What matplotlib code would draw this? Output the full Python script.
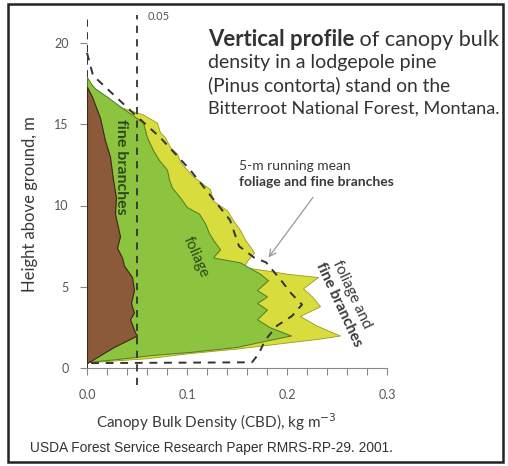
import matplotlib
matplotlib.use("Agg")
import matplotlib.pyplot as plt
from matplotlib.patches import Rectangle

# ---------------- data (height m, CBD kg m-3) ----------------
fb_h = [17.3, 16.7, 15.4, 14.0, 13.0, 11.6, 10.5, 9.5, 8.1, 7.4, 6.8, 6.3, 5.6, 4.8,
        4.0, 3.4, 3.0, 2.2, 2.0, 1.3, 0.3]
fb_x = [0.0, 0.005, 0.013, 0.018, 0.023, 0.026, 0.029, 0.028, 0.033, 0.030, 0.035,
        0.037, 0.045, 0.047, 0.044, 0.047, 0.043, 0.048, 0.050, 0.027, 0.0]

fol_h = [17.9, 17.5, 17.2, 16.7, 16.1, 15.5, 15.1, 14.2, 13.4, 12.8, 12.2, 11.6, 11.1,
         10.5, 9.9, 9.5, 8.9, 8.3, 7.9, 7.3, 6.8, 6.5, 5.8, 5.4, 4.8, 4.4, 4.0, 3.6,
         3.0, 2.5, 2.0, 1.7, 1.3, 1.0, 0.8, 0.55, 0.37]
fol_x = [0.0, 0.004, 0.008, 0.020, 0.033, 0.047, 0.056, 0.060, 0.066, 0.072, 0.080,
         0.082, 0.085, 0.093, 0.100, 0.112, 0.118, 0.122, 0.126, 0.133, 0.126, 0.153,
         0.173, 0.181, 0.170, 0.180, 0.170, 0.180, 0.170, 0.183, 0.204, 0.180, 0.150,
         0.105, 0.065, 0.030, 0.0]

tot_h = [17.2, 16.7, 16.3, 16.0, 15.8, 15.6, 15.1, 14.5, 14.2, 13.6, 13.2, 12.7, 12.2,
         11.8, 11.0, 10.3, 9.7, 9.1, 8.5, 7.9, 7.4, 7.1, 6.6, 6.2, 6.0, 5.8, 5.6, 4.9,
         4.4, 3.8, 3.2, 2.6, 2.0, 1.8, 1.6, 1.2, 0.9, 0.6, 0.35]
tot_x = [0.008, 0.018, 0.026, 0.036, 0.046, 0.056, 0.070, 0.073, 0.078, 0.083, 0.090,
         0.093, 0.100, 0.106, 0.123, 0.126, 0.140, 0.146, 0.153, 0.158, 0.164, 0.167,
         0.160, 0.157, 0.180, 0.200, 0.231, 0.216, 0.225, 0.233, 0.213, 0.230, 0.253,
         0.232, 0.204, 0.150, 0.100, 0.060, 0.0]

rm_h = [19.4, 18.0, 15.7, 14.2, 12.2, 9.1, 7.5, 6.8, 6.5, 5.4, 4.6, 3.9, 3.2, 2.6,
        1.7, 0.9, 0.35, 0.3]
rm_x = [0.0, 0.006, 0.046, 0.073, 0.103, 0.143, 0.152, 0.167, 0.179, 0.194, 0.204,
        0.215, 0.205, 0.190, 0.178, 0.172, 0.165, 0.0]

x_ticks = [0.0, 0.1, 0.2, 0.3]
x_tick_labels = ["0.0", "0.1", "0.2", "0.3"]
x_minor = [0.02, 0.04, 0.06, 0.08, 0.12, 0.14, 0.16, 0.18, 0.22, 0.24, 0.26, 0.28]
y_ticks = [0, 5, 10, 15, 20]
ref_x = 0.05

# ---------------- figure ----------------
W, H = 508, 466
fig = plt.figure(figsize=(W / 100, H / 100), dpi=100)
FONT = "Lato"
TXT = "#3a3a3a"

def fx(px):
    return px / W

def fy(py):
    return 1 - py / H

ymax = 21.8
ax = fig.add_axes([fx(87), fy(368), (387 - 87) / W, (368 - 13.75) / H])
ax.set_xlim(0, 0.3)
ax.set_ylim(0, ymax)

BROWN = "#8a5a3b"
GREEN = "#8cc33f"
YELLOW = "#d8dc3c"

# left dashed line at x=0 (behind fills)
ax.plot([0, 0], [0, 21.7], ls=(0, (4, 3)), color="#222222", lw=1.3, zorder=1)

ax.fill_betweenx(tot_h, 0, tot_x, color=YELLOW, edgecolor="#9a9a20", lw=0.6, zorder=2)
ax.fill_betweenx(fol_h, 0, fol_x, color=GREEN, edgecolor="#4f7a22", lw=0.7, zorder=3)
ax.fill_betweenx(fb_h, 0, fb_x, color=BROWN, edgecolor="#3d2414", lw=0.8, zorder=4)

# reference line at 0.05
ax.plot([ref_x, ref_x], [-1.05, 21.7], ls=(0, (4, 3.5)), color="#333333", lw=1.3,
        zorder=6, clip_on=False)

# running mean
ax.plot(rm_x, rm_h, ls=(0, (4, 3.5)), color="#333333", lw=1.4, zorder=7, clip_on=False)

# axes styling
for s in ["top", "right", "left"]:
    ax.spines[s].set_visible(False)
ax.spines["bottom"].set_color("#888888")
ax.spines["bottom"].set_linewidth(0.8)
ax.set_xticks(x_ticks)
ax.set_xticklabels(x_tick_labels, fontsize=9, color="#555555", family=FONT)
ax.set_xticks(x_minor, minor=True)
ax.set_yticks(y_ticks)
ax.set_yticklabels([str(v) for v in y_ticks], fontsize=9, color="#555555", family=FONT)
ax.tick_params(axis="x", which="both", direction="out", length=5, width=0.8,
               color="#888888", pad=10)
ax.tick_params(axis="y", direction="out", length=5, width=0.8, color="#888888", pad=8)
ax.patch.set_alpha(0)

ax.text(0.061, 21.6, "0.05", fontsize=8, color="#555555", family=FONT,
        ha="left", va="center", clip_on=False)

# labels in the plot
ax.text(0.034, 12.4, "fine branches", rotation=-90, fontsize=11.5, fontweight="bold",
        color="#2c4a18", family=FONT, ha="center", va="center", zorder=8)
ax.text(0.109, 6.8, "foliage", rotation=-66, fontsize=10.5, color="#2c4a18",
        family=FONT, ha="center", va="center", zorder=8)
ax.text(0.265, 4.5, "foliage and", rotation=-65, fontsize=11, color=TXT,
        family=FONT, ha="center", va="center", zorder=8, clip_on=False)
ax.text(0.252, 3.9, "fine branches", rotation=-65, fontsize=11, fontweight="bold",
        color=TXT, family=FONT, ha="center", va="center", zorder=8, clip_on=False)

ax.text(0.152, 12.4, "5-m running mean", fontsize=10, color=TXT, family=FONT,
        ha="left", va="center", zorder=8)
ax.text(0.152, 11.45, "foliage and fine branches", fontsize=10, fontweight="bold",
        color=TXT, family=FONT, ha="left", va="center", zorder=8)
ax.annotate("", xy=(0.1815, 6.8), xytext=(0.226, 10.5),
            arrowprops=dict(arrowstyle="->", color="#999999", lw=0.9,
                            shrinkA=0, shrinkB=0, mutation_scale=12), zorder=8)

# axis labels
fig.text(fx(216), fy(422), "Canopy Bulk Density (CBD), kg m$^{-3}$", fontsize=11,
         color=TXT, family=FONT, ha="center", va="center")
fig.text(fx(30), fy(204), "Height above ground, m", fontsize=12, color=TXT,
         family=FONT, ha="center", va="center", rotation=90)

# header text, fitted to widths
fig.canvas.draw()
rend = fig.canvas.get_renderer()

def fit_text(x0, x1, ybase, s, weight="normal", base=12, family=FONT, color="#333333"):
    t = fig.text(fx(x0), fy(ybase), s, fontsize=base, fontweight=weight, color=color,
                 family=family, ha="left", va="baseline")
    w = t.get_window_extent(rend).width
    t.set_fontsize(base * (x1 - x0) / w)
    return t

t1 = fit_text(208, 355, 46, "Vertical profile", weight="bold", base=16)
bb = t1.get_window_extent(rend)
fit_text(bb.x1 + 0.0, 500, 46, " of canopy bulk")
fit_text(208, 436, 68, "density in a lodgepole pine")
fit_text(208, 449, 91, "(Pinus contorta) stand on the")
fit_text(208, 498, 114, "Bitterroot National Forest, Montana.")

fit_text(30, 393, 452, "USDA Forest Service Research Paper RMRS-RP-29. 2001.",
         base=9, family="Liberation Sans", color="#333333")

# outer frame
fig.patches.append(Rectangle((fx(8), fy(462)), fx(503) - fx(8), fy(4) - fy(462),
                             transform=fig.transFigure, fill=False, ec="#222222", lw=1.8))

fig.savefig("out.png", dpi=100)
